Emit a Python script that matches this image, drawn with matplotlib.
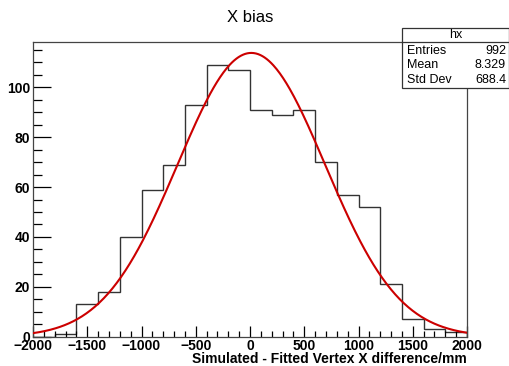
import numpy as np
from matplotlib import pyplot as plt
from matplotlib.ticker import MultipleLocator
from matplotlib.patches import Rectangle

plt.rcParams['font.family'] = ['Liberation Sans', 'DejaVu Sans']

# histogram contents, 200 mm bins from -2000 to 2000
bin_edges = np.arange(-2000, 2001, 200)
counts = [0, 1, 13, 18, 40, 59, 69, 93, 109, 107,
          91, 89, 91, 70, 57, 52, 21, 7, 3, 2]

# gaussian fit parameters
fit_amp = 113.8
fit_mean = 12.0
fit_sigma = 680.0

stats_labels = ['Entries', 'Mean', 'Std Dev']
stats_values = ['992', '8.329', '688.4']

#%% figure
W, H = 509, 366
fig = plt.figure(figsize=(W/100, H/100), dpi=100)
ax = fig.add_axes([33/W, 1-336.7/H, (467-33)/W, (336.7-41.7)/H])

ax.stairs(counts, bin_edges, color='#333333', linewidth=1.0)

xf = np.linspace(-2000, 2000, 400)
yf = fit_amp*np.exp(-0.5*((xf-fit_mean)/fit_sigma)**2)
ax.plot(xf, yf, color='#cc0000', linewidth=1.5, zorder=5)

ax.set_xlim(-2000, 2000)
ax.set_ylim(0, 118.3)

ax.xaxis.set_major_locator(MultipleLocator(500))
ax.xaxis.set_minor_locator(MultipleLocator(100))
ax.yaxis.set_major_locator(MultipleLocator(20))
ax.yaxis.set_minor_locator(MultipleLocator(5))

ax.tick_params(axis='x', which='major', direction='in', length=8, width=0.9, labelsize=10, pad=2)
ax.tick_params(axis='x', which='minor', direction='in', length=4, width=0.9)
ax.tick_params(axis='y', which='major', direction='in', length=13, width=0.9, labelsize=10, pad=2)
ax.tick_params(axis='y', which='minor', direction='in', length=6.5, width=0.9)
for lab in ax.get_xticklabels() + ax.get_yticklabels():
    lab.set_fontweight('bold')

for sp in ax.spines.values():
    sp.set_color('#444444')
    sp.set_linewidth(0.9)

fig.text(467/W, 1-359/H, 'Simulated - Fitted Vertex X difference/mm',
         ha='right', va='center', fontweight='bold', fontsize=10)

fig.text(250/W, 1-17/H, 'X bias', ha='center', va='center', fontsize=12)

# stats box
bx0, bx1, by0, by1 = 402.3, 508.5, 28.3, 87.7
fig.patches.append(Rectangle((bx0/W, 1-by1/H), (bx1-bx0)/W, (by1-by0)/H,
                             transform=fig.transFigure, facecolor='white',
                             edgecolor='#333333', linewidth=0.9, zorder=10))
fig.add_artist(plt.Line2D([bx0/W, bx1/W], [1-42.3/H, 1-42.3/H],
                          transform=fig.transFigure, color='#333333', linewidth=0.9, zorder=11))
fig.text((bx0+bx1)/2/W, 1-35.3/H, 'hx', ha='center', va='center', fontsize=9, zorder=12)
row_y = [50.7, 65.0, 79.8]
for k in range(len(stats_labels)):
    fig.text(407/W, 1-row_y[k]/H, stats_labels[k], ha='left', va='center', fontsize=9, zorder=12)
    fig.text(506/W, 1-row_y[k]/H, stats_values[k], ha='right', va='center', fontsize=9, zorder=12)

plt.savefig('out.png', dpi=100)
